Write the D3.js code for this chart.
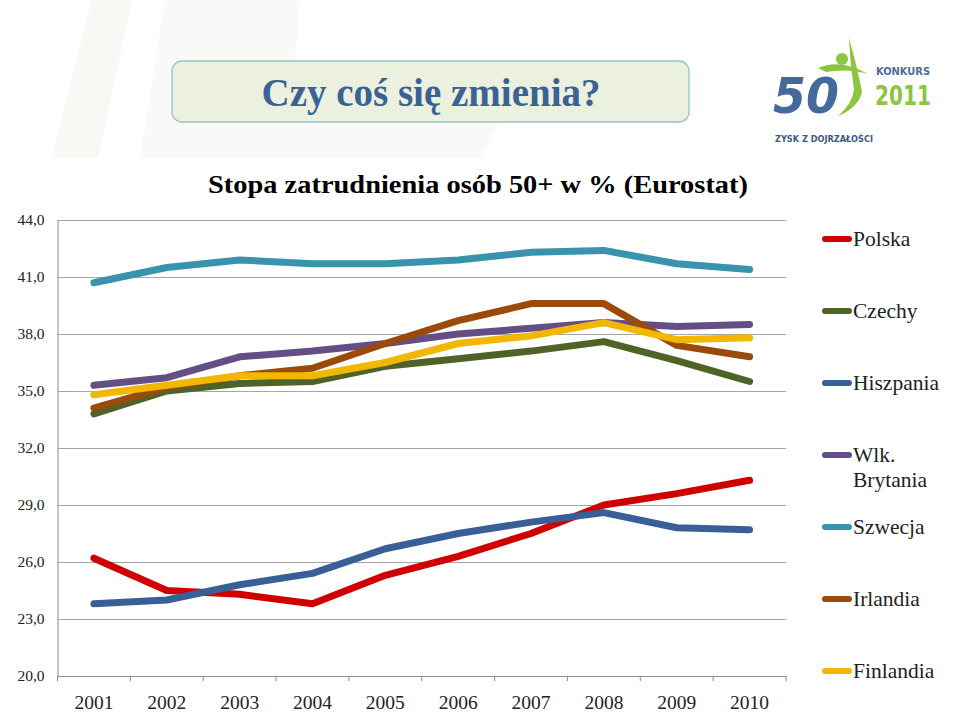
<!DOCTYPE html>
<html><head><meta charset="utf-8">
<script src="https://cdn.jsdelivr.net/npm/d3@7/dist/d3.min.js"></script>
<style>body{margin:0;background:#fff}svg{display:block}</style>
</head><body>
<svg id="c" width="960" height="712"></svg>
<script>
const years = ["2001","2002","2003","2004","2005","2006","2007","2008","2009","2010"];
const polska     = [26.2,24.5,24.3,23.8,25.3,26.3,27.5,29.0,29.6,30.3];
const czechy     = [33.8,35.0,35.4,35.5,36.3,36.7,37.1,37.6,36.6,35.5];
const hiszpania  = [23.8,24.0,24.8,25.4,26.7,27.5,28.1,28.6,27.8,27.7];
const wlkBryt    = [35.3,35.7,36.8,37.1,37.5,38.0,38.3,38.6,38.4,38.5];
const szwecja    = [40.7,41.5,41.9,41.7,41.7,41.9,42.3,42.4,41.7,41.4];
const irlandia   = [34.1,35.2,35.8,36.2,37.5,38.7,39.6,39.6,37.4,36.8];
const finlandia  = [34.8,35.3,35.8,35.8,36.5,37.5,37.9,38.6,37.7,37.8];
const seriesNames = ["Polska","Czechy","Hiszpania","Wlk. Brytania","Szwecja","Irlandia","Finlandia"];
const seriesValues = [polska,czechy,hiszpania,wlkBryt,szwecja,irlandia,finlandia];
const seriesColors = ["#d00000","#4f6228","#386096","#644e86","#3a93ad","#9a4a0a","#f2b700"];
const yTicks = [20,23,26,29,32,35,38,41,44];
const titleText = "Czy coś się zmienia?";
const chartTitle = "Stopa zatrudnienia osób 50+ w % (Eurostat)";

const SERIF = "Liberation Serif, Times New Roman, serif";
const svg = d3.select("#c");

// faint watermark background
svg.append("path").attr("d","M92,0 L132,0 L98,158 L52,158 Z").attr("fill","#f8f8f5");
svg.append("path").attr("d","M165,0 L300,0 L290,120 L500,118 L480,158 L140,158 Z").attr("fill","#f9f9f7");

// title box
svg.append("rect").attr("x",172).attr("y",61).attr("width",517).attr("height",61).attr("rx",10)
  .attr("fill","#ebf1de").attr("stroke","#92c4c6").attr("stroke-width",1.3);
svg.append("text").attr("x",431).attr("y",106).attr("text-anchor","middle")
  .attr("font-family",SERIF).attr("font-weight","bold").attr("font-size",39)
  .attr("fill","#3a6295").text(titleText);

// logo
const logo = svg.append("g");
logo.append("text").attr("x",773).attr("y",113).attr("font-family","DejaVu Sans").attr("font-weight","bold")
  .attr("font-size",50).attr("fill","#44699a").attr("textLength",66).attr("lengthAdjust","spacingAndGlyphs").attr("font-style","italic").text("50");
logo.append("path").attr("d","M818,68 Q840,58 868,74 Q848,68 826,72 Z").attr("fill","#8cc63f");
logo.append("path").attr("d","M849,38 Q858,70 862,92 Q858,108 838,116 Q852,104 854,90 Q850,64 849,38 Z").attr("fill","#8cc63f");
logo.append("circle").attr("cx",842).attr("cy",59).attr("r",6).attr("fill","#8cc63f");
logo.append("text").attr("x",876).attr("y",75).attr("font-family","DejaVu Sans Condensed, DejaVu Sans").attr("font-weight","bold")
  .attr("font-size",10.5).attr("fill","#4a6e98").attr("textLength",54).attr("lengthAdjust","spacingAndGlyphs").text("KONKURS");
logo.append("text").attr("x",875).attr("y",105).attr("font-family","DejaVu Sans Condensed, DejaVu Sans").attr("font-weight","bold")
  .attr("font-size",26).attr("fill","#8cc63f").attr("textLength",56).attr("lengthAdjust","spacingAndGlyphs").text("2011");
logo.append("text").attr("x",775).attr("y",142).attr("font-family","DejaVu Sans").attr("font-weight","bold")
  .attr("font-size",8).attr("fill","#3d5a7a").attr("textLength",98).attr("lengthAdjust","spacingAndGlyphs").text("ZYSK Z DOJRZAŁOŚCI");

// chart title
svg.append("text").attr("x",478).attr("y",193).attr("text-anchor","middle")
  .attr("font-family",SERIF).attr("font-weight","bold").attr("font-size",26)
  .attr("fill","#000").attr("textLength",540).attr("lengthAdjust","spacingAndGlyphs").text(chartTitle);

// scales
const x = d3.scaleBand().domain(years).range([57.5,786]);
const y = d3.scaleLinear().domain([20,44]).range([676,220]);

// gridlines + y axis
const gy = svg.append("g").attr("transform","translate(57.5,0)")
  .call(d3.axisLeft(y).tickValues(yTicks).tickSize(-(786-57.5)).tickPadding(13)
    .tickFormat(d => d.toFixed(1).replace(".",",")));
gy.selectAll(".tick line").attr("stroke","#a6a6a6").attr("stroke-width",1.2);
gy.select(".domain").attr("stroke","#8c8c8c").attr("d","M0.5,220V676");
gy.selectAll(".tick text").attr("font-family",SERIF).attr("font-size",15.5).attr("fill","#222");

// x axis
const gx = svg.append("g").attr("transform","translate(0,676)")
  .call(d3.axisBottom(x).tickSize(0).tickPadding(19));
gx.select(".domain").attr("stroke","#8c8c8c");
gx.selectAll(".tick text").attr("font-family",SERIF).attr("font-size",19.5).attr("fill","#222");
// category boundary tick marks
const bounds = years.map(d => x(d)).concat([x.range()[1]]);
svg.append("g").selectAll("line").data(bounds).join("line")
  .attr("x1",d=>d).attr("x2",d=>d).attr("y1",676).attr("y2",681)
  .attr("stroke","#8c8c8c");

// lines
const line = d3.line().x((d,i)=>x(years[i])+x.bandwidth()/2).y(d=>y(d));
svg.append("g").selectAll("path").data(seriesValues).join("path")
  .attr("d",d=>line(d)).attr("fill","none")
  .attr("stroke",(d,i)=>seriesColors[i]).attr("stroke-width",7)
  .attr("stroke-linecap","round").attr("stroke-linejoin","round");

// legend
const legendY = [239,311,383,455,527,599,671];
const lg = svg.append("g");
seriesNames.forEach((n,i)=>{
  const g = lg.append("g").attr("transform",`translate(0,${legendY[i]})`);
  g.append("line").attr("x1",825).attr("x2",849).attr("y1",0).attr("y2",0)
    .attr("stroke",seriesColors[i]).attr("stroke-width",6).attr("stroke-linecap","round");
  const t = g.append("text").attr("x",853).attr("y",7).attr("font-family",SERIF)
    .attr("font-size",21.5).attr("fill","#222");
  if (n === "Wlk. Brytania") {
    t.append("tspan").attr("x",853).text("Wlk.");
    t.append("tspan").attr("x",853).attr("dy",25).text("Brytania");
  } else t.text(n);
});
</script>
</body></html>
